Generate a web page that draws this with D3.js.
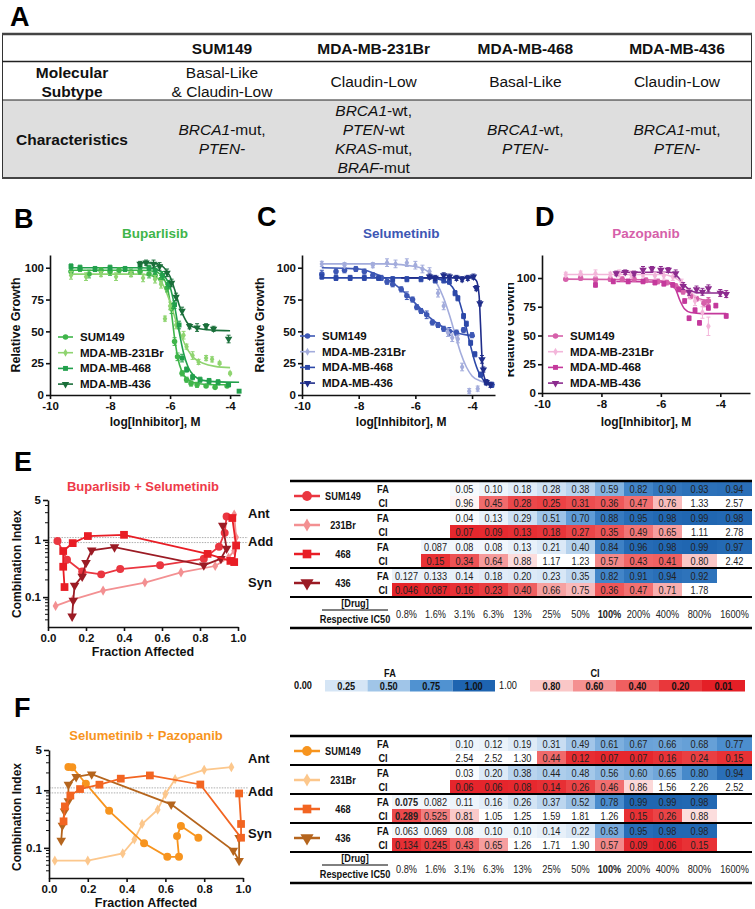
<!DOCTYPE html>
<html><head><meta charset="utf-8">
<script src="https://cdn.jsdelivr.net/npm/d3@7"></script>
<style>body{margin:0;background:#fff}svg{display:block}</style>
</head><body><svg id="c" width="755" height="909"></svg>
<script>
// ================= DATA =================
// Panel A
const tableHeaders = ["SUM149","MDA-MB-231Br","MDA-MB-468","MDA-MB-436"];
const subtypeLines = [["Basal-Like","& Claudin-Low"],["Claudin-Low"],["Basal-Like"],["Claudin-Low"]];
const characteristicLines = [
  [[["BRCA1",true],["-mut,",false]],[["PTEN-",true]]],
  [[["BRCA1",true],["-wt,",false]],[["PTEN",true],["-wt",false]],[["KRAS",true],["-mut,",false]],[["BRAF",true],["-mut",false]]],
  [[["BRCA1",true],["-wt,",false]],[["PTEN-",true]]],
  [[["BRCA1",true],["-mut,",false]],[["PTEN-",true]]]
];
// Panels B-D
const doseLegendNames = ["SUM149","MDA-MB-231Br","MDA-MB-468","MDA-MB-436"];
const pazLegendNames = ["SUM149","MDA-MB-231Br","MDA-MD-468","MDA-MB-436"];
const doseTicks = [-10,-8,-6,-4];
const growthTicks = [0,25,50,75,100];
// [log dose, relative growth, error]
const bupSUM149 = [[-9.3,97,3],[-9.0,99,2],[-8.7,95,3],[-8.3,98,2],[-8.0,97,3],[-7.7,98,2],[-7.3,96,3],[-7.0,97,2],[-6.7,95,3],[-6.5,94,3],[-6.3,91,3],[-6.1,84,3],[-5.95,68,4],[-5.85,42,3],[-5.75,30,3],[-5.6,17,2],[-5.45,12,2],[-5.3,9,2],[-5.1,8,2],[-4.8,7,1],[-4.5,6,1],[-4.1,7,1]];
const bup231Br = [[-9.3,94,3],[-8.8,93,3],[-8.3,95,2],[-7.8,93,3],[-7.3,95,2],[-6.9,92,3],[-6.5,91,3],[-6.3,87,3],[-6.17,60,2],[-6.0,70,3],[-5.8,55,3],[-5.55,47,3],[-5.45,38,2],[-5.25,31,3],[-5.05,26,2],[-4.8,29,2],[-4.6,28,2],[-4.35,25,1],[-4.0,17,1]];
const bup468 = [[-9.3,101,2],[-9.0,100,2],[-8.5,99,2],[-8.0,100,2],[-7.5,99,2],[-7.0,101,2],[-6.7,100,2],[-6.5,98,3],[-6.25,94,3],[-6.05,87,3],[-5.85,71,3],[-5.7,55,3],[-5.6,29,3],[-5.45,20,2],[-5.25,14,2],[-5.0,12,2],[-4.7,11,2],[-4.4,10,2],[-4.05,8,1],[-3.7,3,1]];
const bup436 = [[-7.0,103,2],[-6.8,104,2],[-6.55,103,3],[-6.35,101,3],[-6.1,96,3],[-5.95,88,3],[-5.8,77,3],[-5.6,66,3],[-5.35,54,2],[-5.1,53,3],[-4.8,54,2],[-4.55,52,2],[-4.05,44,3]];
const bupCurveSUM149 = [[-9.3,98],[-7,98],[-6.5,97],[-6.2,91],[-6.05,80],[-5.95,64],[-5.85,45],[-5.75,30],[-5.6,18],[-5.4,12],[-5.1,9],[-4.5,8],[-4,8]];
const bupCurve231Br = [[-9.3,95],[-7,95],[-6.5,93],[-6.2,85],[-6,73],[-5.8,58],[-5.6,45],[-5.4,35],[-5.2,29],[-4.9,25],[-4.5,22.5],[-4,21.5]];
const bupCurve468 = [[-9.3,100],[-7,100],[-6.5,99],[-6.2,94],[-6,85],[-5.85,70],[-5.7,50],[-5.55,33],[-5.4,22],[-5.2,15],[-4.9,11.5],[-4.4,10.3],[-3.7,10]];
const bupCurve436 = [[-7,104],[-6.5,103.5],[-6.2,100],[-6,93],[-5.85,83],[-5.7,71],[-5.55,62],[-5.4,56],[-5.1,52.5],[-4.6,51],[-4,50.5]];

const selSUM149 = [[-9.3,95,3],[-8.8,97,2],[-8.5,98,2],[-8.1,99,2],[-7.8,97,2],[-7.5,94,2],[-7.2,92,2],[-7.0,89,2],[-6.8,87,2],[-6.5,83,2],[-6.3,78,3],[-6.1,75,2],[-5.95,69,2],[-5.8,66,2],[-5.6,63,3],[-5.4,57,2],[-5.2,55,2],[-5.0,52,2],[-4.8,50,3],[-4.55,49,2],[-4.3,51,2],[-4.0,47,2]];
const sel231Br = [[-9.3,103,2],[-8.5,102,2],[-7.5,102,2],[-7.0,104,3],[-6.7,103,3],[-6.3,104,3],[-6.0,102,3],[-5.75,99,3],[-5.5,97,3],[-5.2,80,3],[-5.0,70,3],[-4.85,49,3],[-4.7,45,3],[-4.5,44,3],[-4.35,22,3],[-4.1,3,2],[-3.8,5,2]];
const sel468 = [[-9.3,93,2],[-8.8,92,2],[-8.3,92,2],[-7.8,92,2],[-7.3,92,2],[-6.8,91,2],[-6.3,91,2],[-5.8,91,2],[-5.3,90,2],[-5.0,90,2],[-4.8,89,2],[-4.6,80,2],[-4.5,76,2],[-4.3,62,2],[-4.2,56,2],[-4.05,41,2],[-3.9,32,2],[-3.7,16,2],[-3.5,10,2],[-3.3,8,2]];
const sel436 = [[-5.5,93,2],[-5.3,92,2],[-5.0,94,2],[-4.8,93,2],[-4.55,92,2],[-4.35,91,2],[-4.15,92,2],[-3.95,93,2],[-3.85,84,2],[-3.72,72,2],[-3.65,28,3],[-3.6,20,2],[-3.5,10,2],[-3.35,8,2]];
const selCurveSUM149 = [[-9.3,100],[-8,99],[-7.5,96],[-7,91],[-6.5,83],[-6,72],[-5.5,61],[-5,53],[-4.5,48.5],[-4,46.5],[-3.9,46]];
const selCurve231Br = [[-9.3,103],[-7,103],[-6,101],[-5.5,96],[-5.2,86],[-5,76],[-4.8,63],[-4.6,48],[-4.4,33],[-4.2,22],[-4,15],[-3.7,11],[-3.3,9]];
const selCurve468 = [[-9.3,92],[-5.5,92],[-5,90],[-4.7,85],[-4.5,77],[-4.3,62],[-4.1,43],[-3.9,26],[-3.7,15],[-3.5,10],[-3.2,8]];
const selCurve436 = [[-6.5,92],[-4,92],[-3.85,90],[-3.75,78],[-3.7,55],[-3.65,30],[-3.6,17],[-3.5,11],[-3.3,9]];

const pazSUM149 = [[-9.2,99,1],[-8.7,100,2],[-8.2,99,2],[-7.7,99,2],[-7.3,99,2],[-6.9,99,2],[-6.5,98,2],[-6.1,97,2],[-5.8,96,2],[-5.5,93,2],[-5.25,88,2],[-5.0,84,2],[-4.8,82,2],[-4.55,78,3],[-4.4,80,3]];
const paz231Br = [[-9.2,103,2],[-8.7,104,2],[-8.2,104,3],[-7.7,103,2],[-7.4,104,3],[-7.0,103,3],[-6.6,103,2],[-6.2,102,3],[-5.9,102,3],[-5.6,101,3],[-5.3,96,3],[-5.05,86,4],[-4.85,80,4],[-4.6,70,5],[-4.4,58,8],[-4.0,87,3],[-3.8,86,3]];
const paz468 = [[-8.2,94,2],[-7.6,97,2],[-7.1,97,2],[-6.6,97,2],[-6.2,96,2],[-5.9,95,2],[-5.6,94,2],[-5.4,90,2],[-5.2,80,2],[-5.05,65,2],[-4.85,72,2],[-4.7,61,2],[-4.4,74,2],[-4.15,76,2],[-3.8,67,2]];
const paz436 = [[-7.5,104,2],[-7.2,105,2],[-6.9,104,2],[-6.6,107,3],[-6.3,108,2],[-6.0,107,3],[-5.75,107,2],[-5.5,104,3],[-5.25,93,3],[-5.05,88,3],[-4.8,90,3],[-4.6,88,3],[-4.4,91,3],[-4.0,87,3],[-3.8,86,3]];
const pazCurveSUM149 = [[-9.2,99],[-6.5,98.5],[-5.8,97],[-5.5,94],[-5.2,89],[-4.9,84],[-4.6,81],[-4.4,80]];
const pazCurve231Br = [[-9.2,103],[-6,103],[-5.6,101],[-5.3,96],[-5.0,88],[-4.7,81],[-4.4,77]];
const pazCurve468 = [[-7.5,97],[-6,96.5],[-5.7,95],[-5.5,90],[-5.35,80],[-5.2,73],[-5.0,70],[-4.6,69],[-3.8,69]];
const pazCurve436 = [[-7.5,105],[-5.7,105],[-5.5,103],[-5.3,97],[-5.1,91],[-4.9,88],[-4.6,87],[-3.8,87]];

// Panels E-F
const tableNames = ["SUM149","231Br","468","436"];
const pctLabels = ["0.8%","1.6%","3.1%","6.3%","13%","25%","50%","100%","200%","400%","800%","1600%"];
const e_FA_SUM149 = [null,null,0.05,0.10,0.18,0.28,0.38,0.59,0.82,0.90,0.93,0.94];
const e_CI_SUM149 = [null,null,0.96,0.45,0.28,0.25,0.31,0.36,0.47,0.76,1.33,2.57];
const e_FA_231Br = [null,null,0.04,0.13,0.29,0.51,0.70,0.88,0.95,0.98,0.99,0.98];
const e_CI_231Br = [null,null,0.07,0.09,0.13,0.18,0.27,0.35,0.49,0.65,1.11,2.78];
const e_FA_468 = [null,0.087,0.08,0.08,0.13,0.21,0.40,0.84,0.96,0.98,0.99,0.97];
const e_CI_468 = [null,0.15,0.34,0.64,0.88,1.17,1.23,0.57,0.43,0.41,0.80,2.42];
const e_FA_436 = [0.127,0.133,0.14,0.18,0.20,0.23,0.35,0.82,0.91,0.94,0.92,null];
const e_CI_436 = [0.046,0.087,0.16,0.23,0.40,0.66,0.75,0.36,0.47,0.71,1.78,null];
const f_FA_SUM149 = [null,null,0.10,0.12,0.19,0.31,0.49,0.61,0.67,0.66,0.68,0.77];
const f_CI_SUM149 = [null,null,2.54,2.52,1.30,0.44,0.12,0.07,0.07,0.16,0.24,0.15];
const f_FA_231Br = [null,null,0.03,0.20,0.38,0.44,0.48,0.56,0.60,0.65,0.80,0.94];
const f_CI_231Br = [null,null,0.06,0.06,0.08,0.14,0.26,0.46,0.86,1.56,2.26,2.52];
const f_FA_468 = [0.075,0.082,0.11,0.16,0.26,0.37,0.52,0.78,0.99,0.99,0.98,null];
const f_CI_468 = [0.289,0.525,0.81,1.05,1.25,1.59,1.81,1.26,0.15,0.26,0.88,null];
const f_FA_436 = [0.063,0.069,0.08,0.10,0.10,0.14,0.22,0.63,0.95,0.98,0.98,null];
const f_CI_436 = [0.134,0.245,0.43,0.65,1.26,1.71,1.90,0.57,0.09,0.06,0.15,null];
const fBoldCells = [["468",0]];
const ciMajorTicks = [0.1,1,5];
const ciMinorTicks = [0.04,0.05,0.06,0.07,0.08,0.09,0.2,0.3,0.4,0.5,0.6,0.7,0.8,0.9,2,3,4];
const faTicks = [0,0.2,0.4,0.6,0.8,1.0];
const faLegendValues = [0.25,0.50,0.75,1.00];
const ciLegendValues = [0.80,0.60,0.40,0.20,0.01];
const refLevels = [1.1,0.9];

// ================= DRAWING =================
const FONT = '"Liberation Sans", Arial, Helvetica, sans-serif';
const svg = d3.select("#c").attr("font-family", FONT);
const TXT = "#111";

function label(g, x, y, s, opt={}) {
  return g.append("text").attr("x",x).attr("y",y).text(s)
    .attr("font-size", opt.size||12).attr("font-weight", opt.bold?"bold":"normal")
    .attr("font-style", opt.italic?"italic":"normal")
    .attr("text-anchor", opt.anchor||"middle").attr("fill", opt.fill||TXT);
}
function narrow(g, x, y, s, opt={}) {
  return g.append("text").attr("transform",`translate(${x},${y}) scale(${opt.sx||0.8},1)`).text(s)
    .attr("font-size", opt.size||11).attr("font-weight", opt.bold?"bold":"normal")
    .attr("text-anchor", opt.anchor||"middle").attr("fill", opt.fill||"#222");
}
const triDown = {draw(ctx,size){const s=Math.sqrt(size/ (Math.sqrt(3)/4)); const h=s*Math.sqrt(3)/2; ctx.moveTo(-s/2,-h/3); ctx.lineTo(s/2,-h/3); ctx.lineTo(0,2*h/3); ctx.closePath();}};
const symbolTypes = [d3.symbolCircle, d3.symbolDiamond, d3.symbolSquare, triDown];

// Panel letters
[["A",10,26],["B",14,228],["C",257,226],["D",535,226],["E",14,471],["F",14,717]].forEach(([t,x,y])=>
  label(svg,x,y,t,{size:27,bold:true,anchor:"start",fill:"#000"}));

// ---------- Panel A
(function(){
  const g = svg.append("g");
  const colX = d3.scalePoint().domain(tableHeaders).range([222,677]);
  g.append("rect").attr("x",2.5).attr("y",100).attr("width",749).attr("height",78).attr("fill","#dedede");
  g.append("rect").attr("x",2.5).attr("y",34).attr("width",749).attr("height",144).attr("fill","none").attr("stroke","#333").attr("stroke-width",1);
  [[34,2.5,"#444"],[61.5,1.5,"#222"],[100,1,"#222"],[178,2,"#444"]].forEach(([y,w,c])=>
    g.append("line").attr("x1",2).attr("x2",752).attr("y1",y).attr("y2",y).attr("stroke",c).attr("stroke-width",w));
  tableHeaders.forEach(h=>label(g,colX(h),54,h,{size:15.5,bold:true}));
  label(g,72,78,"Molecular",{size:15.5,bold:true});
  label(g,72,97,"Subtype",{size:15.5,bold:true});
  label(g,72,145,"Characteristics",{size:15.5,bold:true});
  subtypeLines.forEach((lines,i)=>lines.forEach((s,k)=>
    label(g,colX(tableHeaders[i]),87+(k-(lines.length-1)/2)*19,s,{size:15.5})));
  characteristicLines.forEach((lines,i)=>lines.forEach((segs,k)=>{
    const t = g.append("text").attr("x",colX(tableHeaders[i])).attr("y",144+(k-(lines.length-1)/2)*19)
      .attr("text-anchor","middle").attr("font-size",15.5).attr("fill",TXT);
    segs.forEach(([s,it])=>t.append("tspan").text(s).attr("font-style",it?"italic":"normal"));
  }));
})();

// ---------- Panels B-D
function drawDose(cfg){
  const x = d3.scaleLinear().domain(cfg.xDomain).range(cfg.xRange);
  const y = d3.scaleLinear().domain(cfg.yDomain).range(cfg.yRange);
  const g = svg.append("g");
  label(g, x(-6.5), 238, cfg.title, {size:13.5,bold:true,fill:cfg.colors[0]});
  const xa = g.append("g").attr("transform",`translate(0,${cfg.yRange[0]})`)
    .call(d3.axisBottom(x).tickValues(doseTicks).tickFormat(d=>String(d)).tickSize(4).tickSizeOuter(0).tickPadding(3));
  const ya = g.append("g").attr("transform",`translate(${cfg.xRange[0]},0)`)
    .call(d3.axisLeft(y).tickValues(growthTicks).tickSize(4).tickSizeOuter(0).tickPadding(2));
  [xa,ya].forEach(a=>{a.selectAll("path,line").attr("stroke","#111").attr("stroke-width",1.6);
    a.selectAll("text").attr("font-size",11.5).attr("font-weight","bold").attr("fill",TXT).attr("font-family",FONT);});
  label(g, x(-6.5), 426, "log[Inhibitor], M", {size:12,bold:true});
  const yl = g.append("g");
  if (cfg.clipX) {
    const id = "clip"+cfg.title;
    svg.append("clipPath").attr("id",id).append("rect").attr("x",cfg.clipX).attr("y",250).attr("width",60).attr("height",160);
    yl.attr("clip-path",`url(#${id})`);
  }
  yl.append("text").attr("transform",`translate(${cfg.ylabX},${y(55)}) rotate(-90)`).attr("text-anchor","middle")
    .attr("font-size",12.5).attr("font-weight","bold").attr("fill",TXT).text("Relative Growth");
  const line = d3.line().x(d=>x(d[0])).y(d=>y(d[1])).curve(d3.curveMonotoneX);
  cfg.curves.forEach((c,i)=>g.append("path").attr("d",line(c)).attr("fill","none").attr("stroke",cfg.colors[i]).attr("stroke-width",1.6));
  cfg.points.forEach((pts,i)=>{
    const col = cfg.colors[i];
    pts.forEach(([dx,gy,e])=>{
      const px=x(dx), py=y(gy);
      g.append("line").attr("x1",px).attr("x2",px).attr("y1",y(gy-e)).attr("y2",y(gy+e)).attr("stroke",col).attr("stroke-width",1);
      [gy-e,gy+e].forEach(v=>g.append("line").attr("x1",px-2).attr("x2",px+2).attr("y1",y(v)).attr("y2",y(v)).attr("stroke",col).attr("stroke-width",1));
      g.append("path").attr("transform",`translate(${px},${py})`).attr("d",d3.symbol(symbolTypes[i], i===1?18:24)()).attr("fill",col);
    });
  });
  cfg.names.forEach((n,i)=>{
    const ly = cfg.legY + i*15.7;
    g.append("line").attr("x1",cfg.legX).attr("x2",cfg.legX+15).attr("y1",ly).attr("y2",ly).attr("stroke",cfg.colors[i]).attr("stroke-width",1.6);
    g.append("path").attr("transform",`translate(${cfg.legX+7.5},${ly})`).attr("d",d3.symbol(symbolTypes[i], i===1?18:24)()).attr("fill",cfg.colors[i]);
    label(g, cfg.legX+22, ly+4, n, {size:11.5,bold:true,anchor:"start"});
  });
}
drawDose({title:"Buparlisib",xDomain:[-10,-3.67],xRange:[50,240],yDomain:[0,110],yRange:[395,255],ylabX:20,
  colors:["#3fb54a","#8fd470","#22a04c","#1a6f3a"],names:doseLegendNames,legX:58,legY:337,
  points:[bupSUM149,bup231Br,bup468,bup436],curves:[bupCurveSUM149,bupCurve231Br,bupCurve468,bupCurve436]});
drawDose({title:"Selumetinib",xDomain:[-10,-3.19],xRange:[302,495],yDomain:[0,110],yRange:[395,255],ylabX:264,
  colors:["#3d57b4","#a3acdc","#2c48a8","#1f2d8a"],names:doseLegendNames,legX:300,legY:336,
  points:[selSUM149,sel231Br,sel468,sel436],curves:[selCurveSUM149,selCurve231Br,selCurve468,selCurve436]});
drawDose({title:"Pazopanib",xDomain:[-10,-3],xRange:[542,750],yDomain:[0,120],yRange:[393,255],ylabX:514,clipX:508,
  colors:["#d660aa","#f3b6da","#c4399c","#8c2b8e"],names:pazLegendNames,legX:548,legY:336,
  points:[pazSUM149,paz231Br,paz468,paz436],curves:[pazCurveSUM149,pazCurve231Br,pazCurve468,pazCurve436]});

// ---------- Panels E-F
const faColor = d3.scaleLinear().domain([0,0.25,0.5,0.75,1]).range(["#ffffff","#d5e5f5","#a0c5e8","#5092d1","#1e64b0"]).clamp(true);
const ciColor = d3.scaleLinear().domain([0.01,0.2,0.4,0.6,0.8,1]).range(["#e41f26","#e9373b","#ef5f60","#f49091","#fac7c7","#ffffff"]).clamp(true);
const fmt = v => Math.abs(v*100-Math.round(v*100))<1e-6 ? v.toFixed(2) : v.toFixed(3);

function drawCI(cfg){
  const x = d3.scaleLinear().domain([0,1]).range(cfg.xRange);
  const y = d3.scaleLog().domain([0.03,5]).range(cfg.yRange);
  const g = svg.append("g");
  label(g, (cfg.xRange[0]+cfg.xRange[1])/2, cfg.titleY, cfg.title, {size:13,bold:true,fill:cfg.titleColor});
  refLevels.forEach(v=>g.append("line").attr("x1",cfg.xRange[0]).attr("x2",248).attr("y1",y(v)).attr("y2",y(v))
    .attr("stroke","#999").attr("stroke-width",0.8).attr("stroke-dasharray","1.5,1.2"));
  const xa = g.append("g").attr("transform",`translate(0,${cfg.yRange[0]})`)
    .call(d3.axisBottom(x).tickValues(faTicks).tickFormat(d3.format(".1f")).tickSize(4).tickSizeOuter(0).tickPadding(3));
  const ya = g.append("g").attr("transform",`translate(${cfg.xRange[0]},0)`)
    .call(d3.axisLeft(y).tickValues(ciMajorTicks).tickFormat(d=>String(d)).tickSize(5).tickSizeOuter(0).tickPadding(2));
  ciMinorTicks.forEach(v=>g.append("line").attr("x1",cfg.xRange[0]-3).attr("x2",cfg.xRange[0]).attr("y1",y(v)).attr("y2",y(v)).attr("stroke","#111").attr("stroke-width",1));
  [xa,ya].forEach(a=>{a.selectAll("path,line").attr("stroke","#111").attr("stroke-width",1.6);
    a.selectAll("text").attr("font-size",11.5).attr("font-weight","bold").attr("fill",TXT).attr("font-family",FONT);});
  label(g, (cfg.xRange[0]+cfg.xRange[1])/2, cfg.yRange[0]+29, "Fraction Affected", {size:12.5,bold:true});
  g.append("text").attr("transform",`translate(21,${cfg.ylabY}) rotate(-90)`).attr("text-anchor","middle")
    .attr("font-size",12).attr("font-weight","bold").attr("fill",TXT).text("Combination Index");
  const line = d3.line().x(d=>x(d[0])).y(d=>y(d[1]));
  const order = [1,0,3,2];
  const sizes = [50,30,60,40];
  order.forEach(i=>{
    const pts = cfg.fa[i].map((f,j)=>[f,cfg.ci[i][j]]).filter(d=>d[0]!=null && d[1]!=null);
    g.append("path").attr("d",line(pts)).attr("fill","none").attr("stroke",cfg.colors[i]).attr("stroke-width",1.8);
    pts.forEach(d=>g.append("path").attr("transform",`translate(${x(d[0])},${y(d[1])})`)
      .attr("d",d3.symbol(symbolTypes[i], sizes[i])()).attr("fill",cfg.colors[i]));
  });
  [["Ant",cfg.antY],["Add",cfg.addY],["Syn",cfg.synY]].forEach(([t,yy])=>label(svg,248,yy,t,{size:13,bold:true,anchor:"start"}));
}

function drawTable(cfg){
  const top = cfg.top;
  const g = svg.append("g");
  const colLeft = d3.scaleLinear().domain([0,10,12]).range([392,682,752]);
  tableNames.forEach((name,i)=>{
    const y0 = top + 1 + i*29;
    [[cfg.fa[i],faColor,"FA",0],[cfg.ci[i],ciColor,"CI",14]].forEach(([vals,scale,lab,dy])=>{
      vals.forEach((v,j)=>{
        if (v==null) return;
        const x0 = colLeft(j), w = colLeft(j+1)-x0;
        const fill = (lab==="CI" && v>=1) ? "#ffffff" : scale(v);
        g.append("rect").attr("x",x0).attr("y",y0+dy).attr("width",w).attr("height",14).attr("fill",fill);
        const bold = (cfg.bold||[]).some(b=>b[0]===name && b[1]===j);
        narrow(g, x0+w/2, y0+dy+11, fmt(v), {size:11.5,bold});
      });
      narrow(g, 383, y0+dy+11, lab, {size:11.5,bold:true,fill:TXT});
    });
    const yc = y0+14;
    g.append("line").attr("x1",294).attr("x2",320).attr("y1",yc).attr("y2",yc).attr("stroke",cfg.colors[i]).attr("stroke-width",2.5);
    g.append("path").attr("transform",`translate(307,${yc})`).attr("d",d3.symbol(symbolTypes[i], i===1?50:75)()).attr("fill",cfg.colors[i]);
    narrow(g, 343, yc+4, name, {size:11.5,bold:true,fill:TXT});
  });
  for (let i=0;i<=4;i++) g.append("line").attr("x1",290).attr("x2",752).attr("y1",top+i*29).attr("y2",top+i*29).attr("stroke","#000").attr("stroke-width",i===0?2.5:2);
  const yb = top+116;
  g.append("line").attr("x1",290).attr("x2",752).attr("y1",yb+31).attr("y2",yb+31).attr("stroke","#000").attr("stroke-width",2.5);
  narrow(g, 355, yb+10, "[Drug]", {size:11.5,bold:true,fill:TXT});
  g.append("line").attr("x1",322).attr("x2",388).attr("y1",yb+13).attr("y2",yb+13).attr("stroke","#000").attr("stroke-width",1);
  narrow(g, 355, yb+26, "Respective IC50", {size:11.5,bold:true,fill:TXT});
  pctLabels.forEach((p,j)=>narrow(g, (colLeft(j)+colLeft(j+1))/2, yb+21, p, {size:11.5,bold:p==="100%",fill:"#222"}));
}

const eColors = ["#ea3640","#f39092","#e81d25","#9b1b24"];
const fColors = ["#f7941e","#fcc78c","#f26522","#b5651d"];
const eFA = [e_FA_SUM149,e_FA_231Br,e_FA_468,e_FA_436], eCI = [e_CI_SUM149,e_CI_231Br,e_CI_468,e_CI_436];
const fFA = [f_FA_SUM149,f_FA_231Br,f_FA_468,f_FA_436], fCI = [f_CI_SUM149,f_CI_231Br,f_CI_468,f_CI_436];

drawCI({title:"Buparlisib + Selumetinib",titleColor:"#ee3a48",titleY:491,xRange:[48,238],yRange:[627,500],ylabY:564,
  fa:eFA,ci:eCI,colors:eColors,antY:518,addY:546,synY:587});
drawTable({top:481,fa:eFA,ci:eCI,colors:eColors});
drawCI({title:"Selumetinib + Pazopanib",titleColor:"#f7941d",titleY:740,xRange:[49,243],yRange:[878,750],ylabY:817,
  fa:fFA,ci:fCI,colors:fColors,antY:763,addY:796,synY:838});
drawTable({top:736,fa:fFA,ci:fCI,colors:fColors,bold:fBoldCells});

// Legend
(function(){
  const g = svg.append("g");
  const boxX = d3.scaleLinear().domain([0,4]).range([325,495]);
  const boxX2 = d3.scaleLinear().domain([0,5]).range([530,745]);
  narrow(g, 390, 677, "FA", {size:11.5,bold:true,fill:TXT});
  narrow(g, 595, 677, "CI", {size:11.5,bold:true,fill:TXT});
  narrow(g, 303, 689, "0.00", {size:11.5,bold:true,fill:TXT});
  narrow(g, 508, 689, "1.00", {size:11.5,fill:TXT});
  faLegendValues.forEach((v,i)=>{
    g.append("rect").attr("x",boxX(i)).attr("y",680).attr("width",boxX(i+1)-boxX(i)).attr("height",11.5).attr("fill",faColor(v));
    narrow(g,(boxX(i)+boxX(i+1))/2,689.5,v.toFixed(2),{size:11.5,bold:true,fill:TXT});
  });
  ciLegendValues.forEach((v,i)=>{
    g.append("rect").attr("x",boxX2(i)).attr("y",680).attr("width",boxX2(i+1)-boxX2(i)).attr("height",11.5).attr("fill",ciColor(v));
    narrow(g,(boxX2(i)+boxX2(i+1))/2,689.5,v.toFixed(2),{size:11.5,bold:true,fill:TXT});
  });
})();
</script></body></html>
